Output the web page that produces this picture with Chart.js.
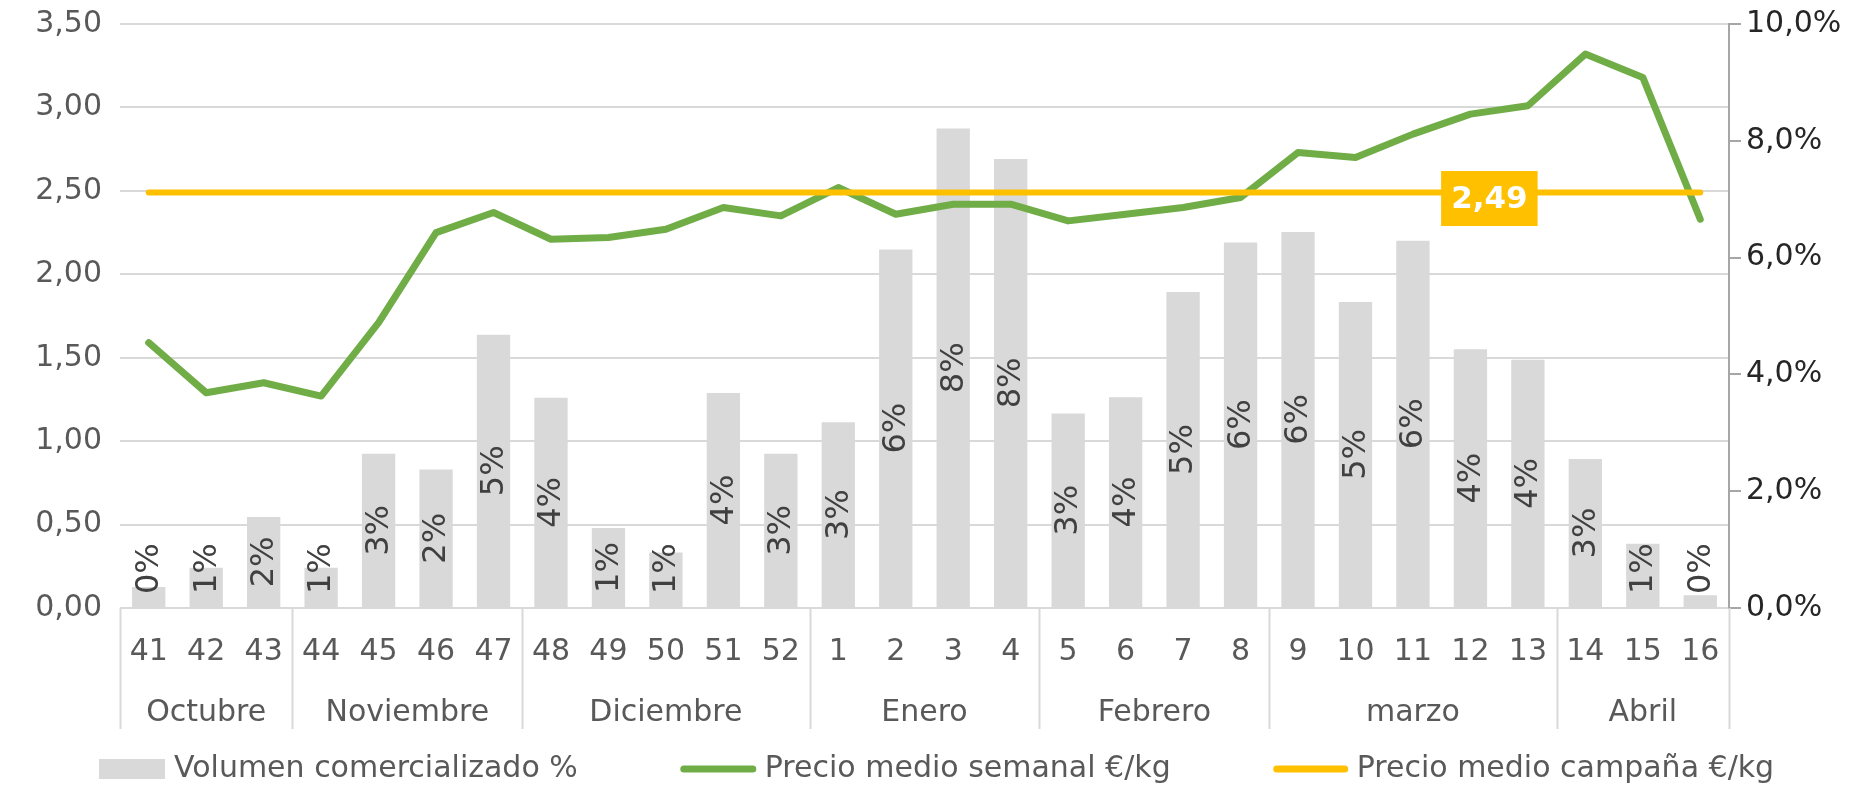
<!DOCTYPE html>
<html><head><meta charset="utf-8">
<script src="https://cdn.jsdelivr.net/npm/chart.js@4.4.1/dist/chart.umd.min.js"></script>
<style>html,body{margin:0;padding:0;background:#fff;}</style>
</head><body>
<canvas id="c" width="1870" height="786"></canvas>
<script>
const weeks = ['41','42','43','44','45','46','47','48','49','50','51','52','1','2','3','4','5','6','7','8','9','10','11','12','13','14','15','16'];
const months = ['Octubre','Noviembre','Diciembre','Enero','Febrero','marzo','Abril'];
const monthSpans = [3,4,5,4,4,5,3];
const volumen = [0.36,0.69,1.56,0.69,2.64,2.37,4.68,3.60,1.37,0.95,3.68,2.64,3.18,6.14,8.21,7.69,3.33,3.61,5.41,6.26,6.44,5.24,6.29,4.43,4.25,2.55,1.10,0.22];
const precioSemanal = [1.59,1.29,1.35,1.27,1.71,2.25,2.37,2.21,2.22,2.27,2.40,2.35,2.52,2.36,2.42,2.42,2.32,2.36,2.40,2.46,2.73,2.70,2.84,2.96,3.01,3.32,3.18,2.33];
const precioCampana = 2.49;
const campanaLabelWeek = '12';
const seriesNames = ['Volumen comercializado %','Precio medio semanal €/kg','Precio medio campaña €/kg'];

const FONT = 'DejaVu Sans';
const FS = 30;
const GREY = '#D9D9D9', GREEN = '#70AD47', ORANGE = '#FFC000', TXT = '#595959';

const fmtComma = (v, d) => Number(v).toFixed(d).replace('.', ',');

const extrasPlugin = {
  id: 'extras',
  afterDatasetsDraw(chart) {
    const ctx = chart.ctx;
    const xs = chart.scales.x, ys = chart.scales.y;
    // bar data labels (rotated)
    const meta = chart.getDatasetMeta(0);
    ctx.save();
    ctx.font = '32px "' + FONT + '"';
    ctx.fillStyle = '#404040';
    ctx.textAlign = 'left';
    ctx.textBaseline = 'middle';
    meta.data.forEach((el, i) => {
      const txt = Math.round(volumen[i]) + '%';
      const w = ctx.measureText(txt).width;
      let c = (el.y + el.base) / 2;
      if (c + w / 2 > el.base - 13) c = el.base - 13 - w / 2;
      ctx.save();
      ctx.translate(el.x, c + w / 2);
      ctx.rotate(-Math.PI / 2);
      ctx.fillText(txt, 0, 1);
      ctx.restore();
    });
    ctx.restore();
    // campaign price label box
    const idx = weeks.indexOf(campanaLabelWeek);
    const step = xs.getPixelForValue(1) - xs.getPixelForValue(0);
    const cx = xs.getPixelForValue(idx) + 0.33 * step;
    const cy = ys.getPixelForValue(precioCampana) + 6;
    ctx.save();
    ctx.font = 'bold 31px "' + FONT + '"';
    const t = fmtComma(precioCampana, 2);
    const tw = ctx.measureText(t).width;
    const bw = tw + 20, bh = 55;
    ctx.fillStyle = ORANGE;
    ctx.fillRect(cx - bw / 2, cy - bh / 2, bw, bh);
    ctx.fillStyle = '#FFFFFF';
    ctx.textAlign = 'center';
    ctx.textBaseline = 'middle';
    ctx.fillText(t, cx, cy + 1);
    ctx.restore();
  },
  afterDraw(chart) {
    const ctx = chart.ctx;
    const xs = chart.scales.x;
    const area = chart.chartArea;
    const step = xs.getPixelForValue(1) - xs.getPixelForValue(0);
    const bottom = area.bottom;
    ctx.save();
    // month groups
    let start = 0;
    const edges = [xs.getPixelForValue(0) - step / 2];
    ctx.font = FS + 'px "' + FONT + '"';
    ctx.fillStyle = TXT;
    ctx.textAlign = 'center';
    ctx.textBaseline = 'middle';
    months.forEach((m, k) => {
      const end = start + monthSpans[k] - 1;
      const l = xs.getPixelForValue(start) - step / 2;
      const r = xs.getPixelForValue(end) + step / 2;
      edges.push(r);
      ctx.fillText(m, (l + r) / 2, bottom + 105);
      start = end + 1;
    });
    ctx.strokeStyle = GREY;
    ctx.lineWidth = 2;
    edges.forEach(x => {
      ctx.beginPath();
      ctx.moveTo(Math.round(x) + 0.5, bottom);
      ctx.lineTo(Math.round(x) + 0.5, bottom + 121);
      ctx.stroke();
    });
    // legend
    const ly = 769;
    let x = 99;
    const swW = [66, 75, 74];
    ctx.textAlign = 'left';
    seriesNames.forEach((name, k) => {
      if (k === 0) {
        ctx.fillStyle = GREY;
        ctx.fillRect(x, ly - 10, swW[k], 20);
      } else {
        ctx.strokeStyle = k === 1 ? GREEN : ORANGE;
        ctx.lineWidth = 7;
        ctx.lineCap = 'round';
        ctx.beginPath();
        ctx.moveTo(x + 3, ly);
        ctx.lineTo(x + swW[k] - 3, ly);
        ctx.stroke();
      }
      ctx.fillStyle = TXT;
      const tx = x + swW[k] + 9;
      ctx.fillText(name, tx, ly);
      x = tx + ctx.measureText(name).width + 103;
    });
    ctx.restore();
  }
};

new Chart(document.getElementById('c'), {
  type: 'bar',
  data: {
    labels: weeks,
    datasets: [
      { type: 'bar', label: seriesNames[0], data: volumen, yAxisID: 'y1', backgroundColor: GREY,
        barPercentage: 0.58, categoryPercentage: 1, order: 3 },
      { type: 'line', label: seriesNames[1], data: precioSemanal, yAxisID: 'y', borderColor: GREEN,
        backgroundColor: GREEN, borderWidth: 7, pointRadius: 0, tension: 0,
        borderJoinStyle: 'round', borderCapStyle: 'round', order: 2 },
      { type: 'line', label: seriesNames[2], data: weeks.map(() => precioCampana), yAxisID: 'y',
        borderColor: ORANGE, backgroundColor: ORANGE, borderWidth: 6, pointRadius: 0,
        borderCapStyle: 'round', order: 1 }
    ]
  },
  options: {
    responsive: false,
    animation: false,
    devicePixelRatio: 1,
    layout: { padding: { top: 24, left: 0, right: 0, bottom: 0 } },
    plugins: { legend: { display: false }, tooltip: { enabled: false } },
    scales: {
      x: {
        offset: true,
        grid: { display: false },
        border: { display: false },
        ticks: { color: TXT, font: { family: FONT, size: FS }, padding: 18, maxRotation: 0, autoSkip: false },
        afterFit: s => { s.height = 178; }
      },
      y: {
        position: 'left', min: 0, max: 3.5,
        ticks: { stepSize: 0.5, color: TXT, font: { family: FONT, size: FS, lineHeight: 0.3 }, padding: 18,
                 callback: v => fmtComma(v, 2) },
        grid: { color: GREY, lineWidth: 2, drawTicks: false },
        border: { display: false },
        afterFit: s => { s.width = 120; }
      },
      y1: {
        position: 'right', min: 0, max: 10,
        ticks: { stepSize: 2, color: '#262626', font: { family: FONT, size: FS, lineHeight: 0.3 }, padding: 5,
                 callback: v => fmtComma(v, 1) + '%' },
        grid: { drawOnChartArea: false, drawTicks: true, tickLength: 12, color: '#A6A6A6', lineWidth: 2 },
        border: { display: true, color: '#A6A6A6', width: 2 },
        afterFit: s => { s.width = 141; }
      }
    }
  },
  plugins: [extrasPlugin]
});
</script>
</body></html>
